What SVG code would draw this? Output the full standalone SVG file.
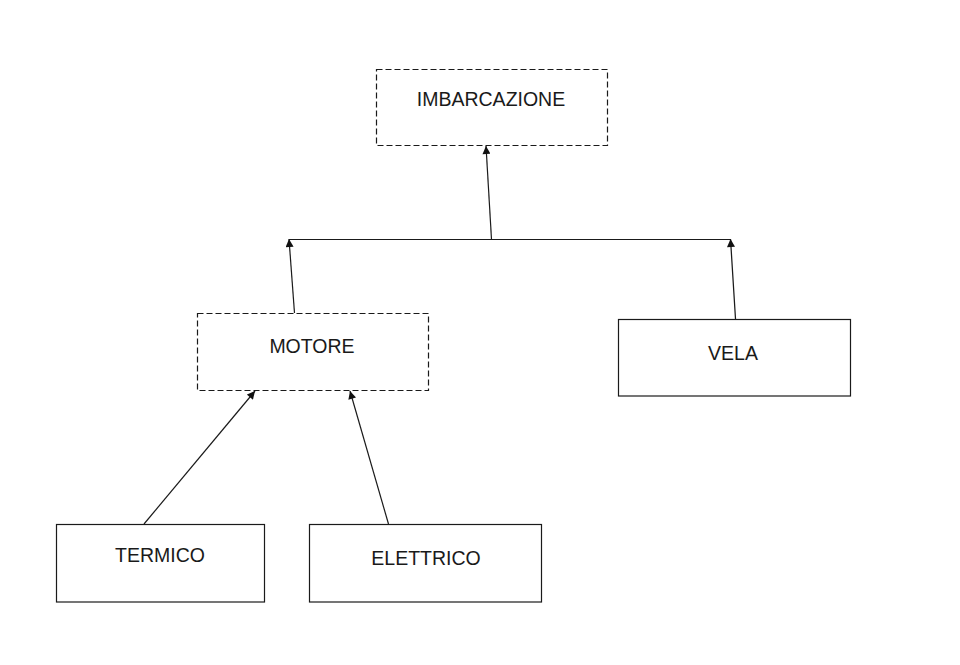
<svg xmlns="http://www.w3.org/2000/svg" width="960" height="665" viewBox="0 0 960 665">
<defs>
<style>
.box{fill:#fff;stroke:#1a1a1a;stroke-width:1.2}
.dash{stroke-dasharray:6 3}
.lbl{font-family:"Liberation Sans",Arial,sans-serif;font-size:19.5px;fill:#1a1a1a;text-anchor:middle}
.con{fill:none;stroke:#1a1a1a;stroke-width:1.2}
</style>
<marker id="ah" viewBox="0 0 10 10" refX="10" refY="5" markerWidth="9" markerHeight="8" markerUnits="userSpaceOnUse" orient="auto">
<path d="M0,0 L10,5 L0,10 Z" fill="#111"/>
</marker>
</defs>
<rect width="960" height="665" fill="#fff"/>
<g id="connectors">
<line class="con" x1="289" y1="239.5" x2="731" y2="239.5"/>
<line class="con" x1="491.5" y1="239.5" x2="486" y2="146" marker-end="url(#ah)"/>
<line class="con" x1="294.5" y1="313" x2="289" y2="239" marker-end="url(#ah)"/>
<line class="con" x1="735.5" y1="319" x2="730.5" y2="239" marker-end="url(#ah)"/>
<line class="con" x1="144" y1="524" x2="255" y2="391" marker-end="url(#ah)"/>
<line class="con" x1="388.5" y1="524" x2="350" y2="391" marker-end="url(#ah)"/>
</g>
<g id="imbarcazione">
<rect class="box dash" x="376.5" y="69.5" width="231" height="76"/>
<text class="lbl" x="491" y="105.5">IMBARCAZIONE</text>
</g>
<g id="motore">
<rect class="box dash" x="197.5" y="313.5" width="231" height="77"/>
<text class="lbl" x="312" y="352.5">MOTORE</text>
</g>
<g id="vela">
<rect class="box" x="618.5" y="319.5" width="232" height="76.5"/>
<text class="lbl" x="733" y="359.5">VELA</text>
</g>
<g id="termico">
<rect class="box" x="56.5" y="524.5" width="208" height="77.5"/>
<text class="lbl" x="160" y="562">TERMICO</text>
</g>
<g id="elettrico">
<rect class="box" x="309.5" y="524.5" width="232" height="77.5"/>
<text class="lbl" x="426" y="564.5">ELETTRICO</text>
</g>
</svg>
